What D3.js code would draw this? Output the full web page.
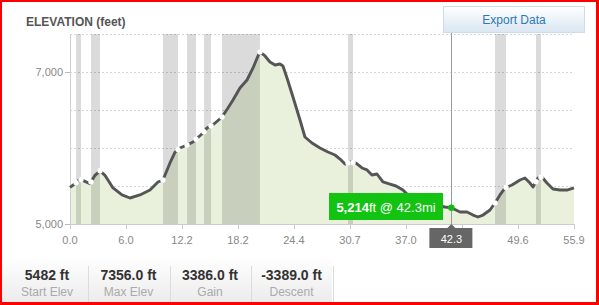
<html>
<head>
<style>
    body{margin:0;background:#fff;}
    #frame{position:absolute;left:0;top:0;width:599px;height:305px;box-sizing:border-box;border-style:solid;border-color:#f00;border-width:2px 3px 3px 2px;}
    svg{position:absolute;left:0;top:0;}
    text{font-family:"Liberation Sans",Arial,sans-serif;}
</style>
</head>
<body>
<svg id="chart" width="599" height="305"></svg>
<div id="frame"></div>
<script src="https://cdnjs.cloudflare.com/ajax/libs/d3/7.8.5/d3.min.js"></script>
<script>
    // elevation profile, miles vs feet
    var miles = [0.00, 0.55, 1.11, 1.66, 2.22, 2.77, 3.33, 3.88, 4.21, 4.77, 5.77, 6.65, 7.76, 8.87, 9.76, 10.31, 11.09, 11.65, 12.20, 12.98,
        13.64, 14.75, 15.19, 15.97, 16.86, 17.52, 18.08, 18.85, 19.63, 20.30, 20.85, 21.07, 21.63, 22.18, 22.74, 23.29, 23.62, 24.07, 24.73, 25.51,
        26.06, 26.84, 27.73, 28.61, 29.39, 29.95, 30.50, 31.06, 31.72, 32.39, 32.94, 33.49, 34.05, 34.71, 35.49, 36.16, 36.93, 37.71, 38.60, 39.37,
        40.15, 41.04, 41.59, 42.30, 43.26, 44.03, 44.70, 45.25, 45.81, 46.58, 47.14, 47.69, 48.25, 49.02, 49.91, 50.46, 51.02, 51.35, 51.91, 52.35,
        52.90, 53.57, 54.35, 55.12, 55.90];
    var elevation = [5482, 5530, 5590, 5560, 5530, 5640, 5700, 5640, 5579, 5474, 5382, 5342, 5382, 5447, 5553, 5579, 5803, 5947, 6000, 6039,
        6079, 6197, 6263, 6316, 6408, 6526, 6632, 6790, 6895, 7053, 7211, 7263, 7211, 7132, 7092, 7105, 7079, 6921, 6671, 6368,
        6145, 6066, 6000, 5947, 5908, 5855, 5789, 5816, 5800, 5737, 5711, 5645, 5658, 5553, 5526, 5500, 5447, 5355, 5329, 5289,
        5263, 5237, 5224, 5214, 5158, 5158, 5118, 5092, 5118, 5184, 5276, 5382, 5474, 5513, 5579, 5605, 5539, 5487, 5605, 5618,
        5539, 5461, 5447, 5447, 5474];
    // gray segments (start mile, end mile)
    var bandStart = [0.67, 2.33, 10.31, 12.98, 14.86, 16.86, 30.83, 47.14, 51.68];
    var bandEnd = [1.22, 3.33, 11.98, 13.98, 15.64, 21.07, 31.39, 48.36, 52.24];

    var xTicks = [0, 6.21, 12.42, 18.63, 24.84, 31.06, 37.27, 43.48, 49.69, 55.9];
    var xTickLabels = ["0.0", "6.0", "12.2", "18.2", "24.4", "30.7", "37.0", "43.5", "49.6", "55.9"];
    var gridValues = [5500, 6000, 6500, 7000, 7500];
    var yTicks = [5000, 7000];

    var hoverMile = 42.3;
    var hoverElev = 5214;

    var statValues = ["5482 ft", "7356.0 ft", "3386.0 ft", "-3389.0 ft"];
    var statLabels = ["Start Elev", "Max Elev", "Gain", "Descent"];

    var svg = d3.select('#chart');
    var x = d3.scaleLinear().domain([0, 55.9]).range([70, 574]);
    var y = d3.scaleLinear().domain([5000, 7500]).range([224, 34]);
    var data = miles.map((m, i) => ({ m: m, e: elevation[i] }));

    function elevAt(m) {
        var i = d3.bisector(d => d.m).left(data, m);
        if (i <= 0) return data[0].e;
        if (i >= data.length) return data[data.length - 1].e;
        var a = data[i - 1], b = data[i];
        return a.e + (b.e - a.e) * (m - a.m) / (b.m - a.m);
    }

    var defs = svg.append('defs');
    var g1 = defs.append('linearGradient').attr('id', 'btn').attr('x1', 0).attr('x2', 0).attr('y1', 0).attr('y2', 1);
    g1.append('stop').attr('offset', 0).attr('stop-color', '#ffffff');
    g1.append('stop').attr('offset', 1).attr('stop-color', '#d9e6f2');
    var g2 = defs.append('linearGradient').attr('id', 'stat').attr('x1', 0).attr('x2', 0).attr('y1', 0).attr('y2', 1);
    g2.append('stop').attr('offset', 0).attr('stop-color', '#ffffff');
    g2.append('stop').attr('offset', 1).attr('stop-color', '#ececec');

    // title
    svg.append('text').attr('x', 26).attr('y', 26).attr('font-size', 12).attr('font-weight', 'bold')
        .attr('fill', '#555').text('ELEVATION (feet)');

    // export button
    var btn = svg.append('g');
    btn.append('rect').attr('x', 443.5).attr('y', 6.5).attr('width', 141).attr('height', 26)
        .attr('fill', 'url(#btn)').attr('stroke', '#cfdbe6');
    btn.append('text').attr('x', 514).attr('y', 24).attr('text-anchor', 'middle').attr('font-size', 12)
        .attr('fill', '#2b79b5').text('Export Data');

    // dotted grid
    svg.append('g').selectAll('line').data(gridValues).enter().append('line')
        .attr('x1', 70).attr('x2', 574).attr('y1', d => Math.round(y(d)) + 0.5).attr('y2', d => Math.round(y(d)) + 0.5)
        .attr('stroke', '#d6d6d6').attr('stroke-dasharray', '2,2');

    // area
    var area = d3.area().x(d => x(d.m)).y0(y(5000)).y1(d => y(d.e));
    svg.append('path').datum(data).attr('d', area).attr('fill', '#e9f1dd');

    // gray bands
    svg.append('g').selectAll('rect').data(bandStart).enter().append('rect')
        .attr('x', (d, i) => x(d)).attr('width', (d, i) => x(bandEnd[i]) - x(d))
        .attr('y', y(7500)).attr('height', y(5000) - y(7500))
        .attr('fill', '#000').attr('fill-opacity', 0.14);

    // axes lines
    svg.append('line').attr('x1', 70.5).attr('x2', 70.5).attr('y1', 34).attr('y2', 224).attr('stroke', '#d0d0d0');
    svg.append('line').attr('x1', 70).attr('x2', 574).attr('y1', 224.5).attr('y2', 224.5).attr('stroke', '#cccccc');

    var yAxis = svg.append('g');
    yAxis.selectAll('line').data(yTicks).enter().append('line')
        .attr('x1', 65).attr('x2', 70).attr('y1', d => y(d) + 0.5).attr('y2', d => y(d) + 0.5).attr('stroke', '#bbb');
    yAxis.selectAll('text').data(yTicks).enter().append('text')
        .attr('x', 63).attr('y', d => y(d) + 4).attr('text-anchor', 'end').attr('font-size', 11).attr('fill', '#888')
        .text(d => d3.format(',')(d));

    // x ticks; the label under the hover box is hidden by it
    var hx = x(hoverMile);
    var xAxis = svg.append('g');
    xAxis.selectAll('line').data(xTicks).enter().append('line')
        .attr('x1', d => Math.round(x(d)) + 0.5).attr('x2', d => Math.round(x(d)) + 0.5)
        .attr('y1', 224).attr('y2', 229).attr('stroke', '#ccc');
    xAxis.selectAll('text').data(xTicks.filter(d => Math.abs(x(d) - hx) > 30)).enter().append('text')
        .attr('x', d => x(d)).attr('y', 244).attr('text-anchor', 'middle').attr('font-size', 11).attr('fill', '#888')
        .text(d => xTickLabels[xTicks.indexOf(d)]);

    // crosshair
    svg.append('line').attr('x1', Math.round(hx) + 0.5).attr('x2', Math.round(hx) + 0.5)
        .attr('y1', 33).attr('y2', 224).attr('stroke', '#999');

    // profile line
    var line = d3.line().x(d => x(d.m)).y(d => y(d.e));
    svg.append('path').datum(data).attr('d', line).attr('fill', 'none')
        .attr('stroke', '#555').attr('stroke-width', 2.9).attr('stroke-linejoin', 'round');

    // white markers where the segments start / end
    var edges = bandStart.concat(bandEnd);
    svg.append('g').selectAll('circle').data(edges).enter().append('circle')
        .attr('cx', d => x(d)).attr('cy', d => y(elevAt(d))).attr('r', 2.7).attr('fill', '#fff');

    // hover label under axis
    svg.append('rect').attr('x', hx - 22).attr('y', 228).attr('width', 43).attr('height', 20).attr('fill', '#666');
    svg.append('path').attr('d', 'M' + (hx - 4) + ',228L' + hx + ',224L' + (hx + 4) + ',228Z').attr('fill', '#666');
    svg.append('text').attr('x', hx).attr('y', 243).attr('text-anchor', 'middle').attr('font-size', 11)
        .attr('fill', '#fff').text(hoverMile.toFixed(1));

    // tooltip
    svg.append('rect').attr('x', 329).attr('y', 193).attr('width', 114).attr('height', 27).attr('fill', '#12c312');
    var tt = svg.append('text').attr('x', 386).attr('y', 212).attr('text-anchor', 'middle').attr('font-size', 13).attr('fill', '#fff');
    tt.append('tspan').attr('font-weight', 'bold').text(d3.format(',')(hoverElev));
    tt.append('tspan').text('ft @ ' + hoverMile.toFixed(1) + 'mi');
    svg.append('circle').attr('cx', hx).attr('cy', y(hoverElev)).attr('r', 3.2).attr('fill', '#16b816');

    // stats strip
    var cell = 81.5;
    var stats = svg.append('g');
    stats.append('rect').attr('x', 2).attr('y', 256).attr('width', 330).attr('height', 46).attr('fill', 'url(#stat)');
    statValues.forEach(function (v, i) {
        var cx = 47 + i * cell;
        stats.append('text').attr('x', cx).attr('y', 280).attr('text-anchor', 'middle').attr('font-size', 14)
            .attr('font-weight', 'bold').attr('fill', '#333').text(v);
        stats.append('text').attr('x', cx).attr('y', 296).attr('text-anchor', 'middle').attr('font-size', 12)
            .attr('fill', '#aaa').text(statLabels[i]);
        var sx = Math.round(88 + i * cell) + 0.5;
        stats.append('line').attr('x1', sx).attr('x2', sx).attr('y1', 266).attr('y2', 302).attr('stroke', '#dcdcdc');
    });
</script>
</body>
</html>
